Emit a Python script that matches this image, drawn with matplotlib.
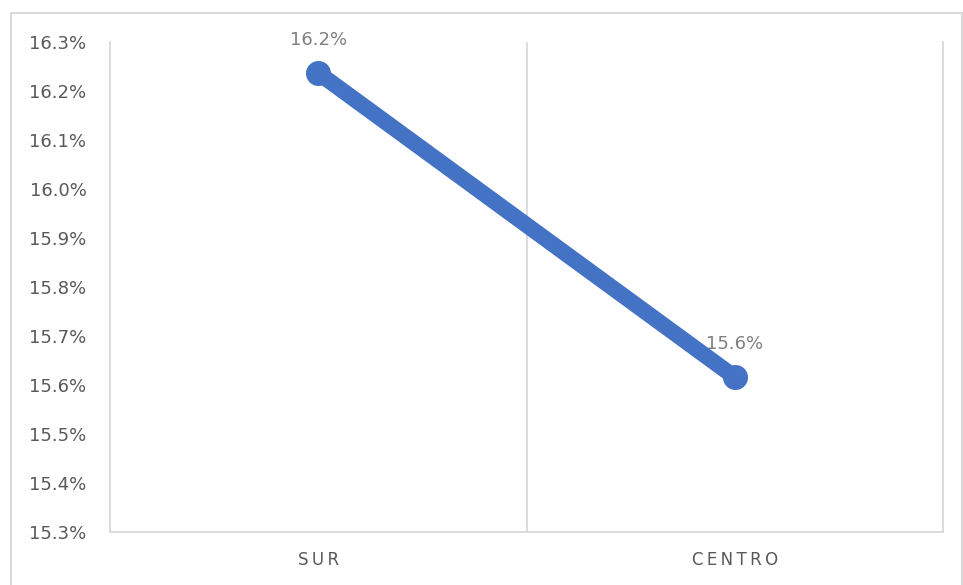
import matplotlib
matplotlib.use("Agg")
import matplotlib.pyplot as plt
from matplotlib.patches import Rectangle
from matplotlib.ticker import FuncFormatter, MultipleLocator

# data
categories = ["SUR", "CENTRO"]
values = [16.237, 15.616]          # percent
labels = ["16.2%", "15.6%"]

LINE_COLOR = "#4472C4"
GRID_COLOR = "#D9D9D9"
TICK_COLOR = "#595959"
LABEL_COLOR = "#7F7F7F"

fig = plt.figure(figsize=(9.63, 5.85), dpi=100)
ax = fig.add_axes([110 / 963, 1 - 532 / 585, 833 / 963, 490 / 585])

x = list(range(len(categories)))
ax.plot(x, values, color=LINE_COLOR, linewidth=11.5, marker="o", markersize=17,
        solid_capstyle="round", zorder=3)

for xi, v, lab in zip(x, values, labels):
    ax.annotate(lab, (xi, v), xytext=(0, 24), textcoords="offset points",
                ha="center", va="center", fontsize=13, color=LABEL_COLOR, zorder=4)

ax.set_xlim(-0.5, len(categories) - 0.5)
ax.set_ylim(15.3, 16.3)
ax.yaxis.set_major_locator(MultipleLocator(0.1))
ax.yaxis.set_major_formatter(FuncFormatter(lambda v, _: f"{v:.1f}%"))

# category separators (Excel style vertical gridlines)
for b in range(1, len(categories)):
    ax.axvline(b - 0.5, color=GRID_COLOR, linewidth=1.3, zorder=1)

ax.set_xticks(x)
ax.set_xticklabels(["\u2009".join(c) for c in categories])
ax.tick_params(axis="x", length=0, pad=14, labelsize=12, colors=TICK_COLOR)
ax.tick_params(axis="y", length=0, pad=17, labelsize=13, colors=TICK_COLOR)

for s in ax.spines.values():
    s.set_color(GRID_COLOR)
    s.set_linewidth(1.3)
ax.spines["top"].set_visible(False)

# outer chart border (bottom edge is cropped off)
fig.add_artist(Rectangle((11 / 963, -0.1), 951 / 963, 1.1 - 13 / 585,
                         transform=fig.transFigure, fill=False,
                         edgecolor=GRID_COLOR, linewidth=1.5))

fig.savefig("out.png", dpi=100)
